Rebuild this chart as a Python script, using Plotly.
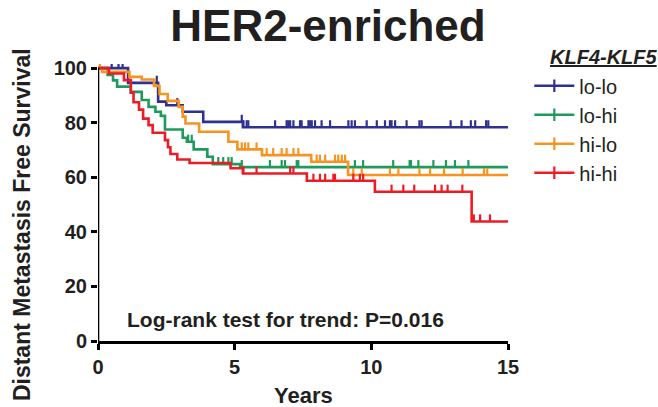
import numpy as np
import plotly.graph_objects as go

# ---------------- data ----------------
groups = ["lo-lo", "lo-hi", "hi-lo", "hi-hi"]
colors = ["#2E3192", "#1E9A5C", "#F7931E", "#ED1C24"]

lolo_event_times = [1.1, 2.2, 2.5, 3.1, 3.85, 5.3]
lolo_surv = [94.6, 87.7, 86.4, 84.0, 80.3, 78.3]
lolo_censor = [0.5, 0.75, 0.9, 2.15, 2.9, 5.26, 5.32, 5.44, 5.5, 6.48, 6.9, 6.96,
               7.03, 7.15, 7.39, 7.45, 7.7, 7.75, 7.82, 7.94, 8.18, 8.49, 9.16,
               9.28, 9.4, 9.83, 10.2, 10.5, 10.68, 10.74, 10.87, 11.29, 11.76,
               11.84, 12.9, 13.3, 13.64, 13.8, 14.2, 14.28]

lohi_event_times = [0.35, 0.55, 0.7, 1.2, 1.6, 1.85, 2.1, 2.3, 2.45, 3.1, 3.25,
                    3.5, 4.0, 4.2, 5.2]
lohi_surv = [97.5, 95.5, 93.2, 91.3, 88.3, 85.8, 84.0, 82.5, 77.5, 74.5, 73.0,
             70.2, 67.5, 64.8, 63.7]
lohi_censor = [3.3, 3.43, 4.4, 4.58, 4.77, 4.89, 5.26, 6.29, 6.72, 6.84, 7.27,
               7.33, 9.4, 9.7, 10.8, 11.4, 11.45, 11.72, 12.27, 12.73, 13.06, 13.55]

hilo_event_times = [0.15, 1.15, 1.6, 2.05, 2.25, 2.55, 2.95, 3.1, 3.2, 3.7, 4.77,
                    5.1, 6.0, 7.8, 9.15]
hilo_surv = [98.6, 96.8, 95.8, 93.5, 90.5, 88.0, 85.8, 82.2, 79.7, 76.7, 73.0,
             70.2, 68.1, 65.7, 60.8]
hilo_censor = [0.07, 5.26, 5.38, 5.5, 5.8, 6.17, 6.41, 6.72, 6.9, 7.15, 7.33, 8.0,
               8.12, 8.31, 8.67, 8.79, 8.92, 9.04, 9.34, 9.65, 10.68, 10.99,
               11.76, 12.15, 12.66, 13.34, 14.12, 14.24]

hihi_event_times = [0.4, 0.95, 1.2, 1.3, 1.5, 1.65, 1.85, 2.0, 2.45, 2.56, 2.65,
                    2.9, 3.35, 4.85, 5.3, 7.64, 10.13, 13.67]
hihi_surv = [98.0, 95.6, 91.0, 87.5, 84.8, 81.5, 79.1, 76.3, 73.6, 71.0, 68.5,
             66.5, 65.2, 63.3, 61.4, 58.7, 54.7, 43.8]
hihi_censor = [5.32, 5.8, 7.03, 7.15, 7.88, 8.12, 8.31, 8.61, 8.67, 9.34, 9.58,
               9.7, 10.74, 11.17, 11.57, 12.33, 12.57, 12.79, 13.33, 13.75,
               13.98, 14.34]

x_ticks = [0, 5, 10, 15]
y_ticks = [0, 20, 40, 60, 80, 100]
x_max = 15
start_surv = 100

title_text = "HER2-enriched"
x_title = "Years"
y_title = "Distant Metastasis Free Survival"
legend_title = "KLF4-KLF5"
stat_text = "Log-rank test for trend: P=0.016"

series = [
    (lolo_event_times, lolo_surv, lolo_censor),
    (lohi_event_times, lohi_surv, lohi_censor),
    (hilo_event_times, hilo_surv, hilo_censor),
    (hihi_event_times, hihi_surv, hihi_censor),
]

# ---------------- styles ----------------
FONT = "Arial, 'Liberation Sans', Helvetica, sans-serif"
TXT = "#231F20"
LW = 2.6
TICK_UP = 2.6  # censor tick height in data units

fig = go.Figure()

for name, col, (et, sv, cs) in zip(groups, colors, series):
    xs = [0] + list(et) + [x_max]
    ys = [start_surv] + list(sv) + [sv[-1]]
    fig.add_trace(go.Scatter(x=xs, y=ys, mode="lines",
                             line=dict(color=col, width=LW, shape="hv"),
                             showlegend=False, hoverinfo="skip"))
    et_arr = np.array(et)
    sv_arr = np.array([start_surv] + list(sv))
    idx = np.searchsorted(et_arr, np.array(cs), side="right")
    cy = sv_arr[idx]
    fig.add_trace(go.Scatter(x=cs, y=cy, mode="markers",
                             marker=dict(size=1, color="rgba(0,0,0,0)"),
                             error_y=dict(type="data", symmetric=False,
                                          array=[TICK_UP] * len(cs),
                                          arrayminus=[0] * len(cs),
                                          color=col, thickness=2.2, width=0),
                             showlegend=False, hoverinfo="skip", cliponaxis=False))
    fig.add_trace(go.Scatter(x=[None], y=[None], mode="lines+markers", name=name,
                             line=dict(color=col, width=LW),
                             marker=dict(symbol="line-ns", size=9,
                                         line=dict(color=col, width=2.2))))

fig.update_layout(
    width=658, height=407, autosize=False,
    margin=dict(l=98, r=150, t=64, b=66),
    paper_bgcolor="white", plot_bgcolor="white",
    font=dict(family=FONT, color=TXT),
    title=dict(text=title_text, x=0.4985, xanchor="center", y=0.936,
               yanchor="middle", yref="container",
               font=dict(size=44, weight="bold", color=TXT, family=FONT)),
    xaxis=dict(range=[0, x_max], tickvals=x_ticks, showline=True, linewidth=2.6,
               linecolor="black", ticks="outside", ticklen=6, tickwidth=2.6,
               tickcolor="black", showgrid=False, zeroline=False,
               tickfont=dict(size=20, weight="bold", color=TXT, family=FONT)),
    yaxis=dict(range=[0, 101.5], tickvals=y_ticks, showline=False,
               ticks="outside", ticklen=6, tickwidth=2.6, tickcolor="black",
               showgrid=False, zeroline=False,
               tickfont=dict(size=20, weight="bold", color=TXT, family=FONT)),
    legend=dict(x=1.052, y=0.992, xanchor="left", yanchor="top",
                font=dict(size=20, color=TXT, family=FONT),
                bgcolor="rgba(0,0,0,0)", itemwidth=40, tracegroupgap=0),
    shapes=[dict(type="line", xref="x", yref="y", x0=0, x1=0, y0=0, y1=100,
                 line=dict(color="black", width=2.6), layer="above")],
    annotations=[
        dict(text=f"<b>{x_title}</b>", xref="paper", yref="paper", x=0.5,
             y=-0.195, xanchor="center", yanchor="middle", showarrow=False,
             font=dict(size=22, color=TXT, family=FONT)),
        dict(text=f"<b>{y_title}</b>", xref="paper", yref="paper", x=-0.185,
             y=0.419, xanchor="center", yanchor="middle", showarrow=False,
             textangle=-90, font=dict(size=23, color=TXT, family=FONT)),
        dict(text=f"<b>{stat_text}</b>", xref="paper", yref="paper", x=0.067,
             y=0.079, xanchor="left", yanchor="middle", showarrow=False,
             font=dict(size=21, color=TXT, family=FONT)),
        dict(text=f"<b><i><u>{legend_title}</u></i></b>", xref="paper",
             yref="paper", x=1.0976, y=1.025, xanchor="left", yanchor="middle",
             showarrow=False, font=dict(size=20, color=TXT, family=FONT)),
    ],
)

fig.write_html("out.html", config={"displayModeBar": False},
               post_script="document.body.style.margin='0';"
                           "document.body.style.overflow='hidden';")
